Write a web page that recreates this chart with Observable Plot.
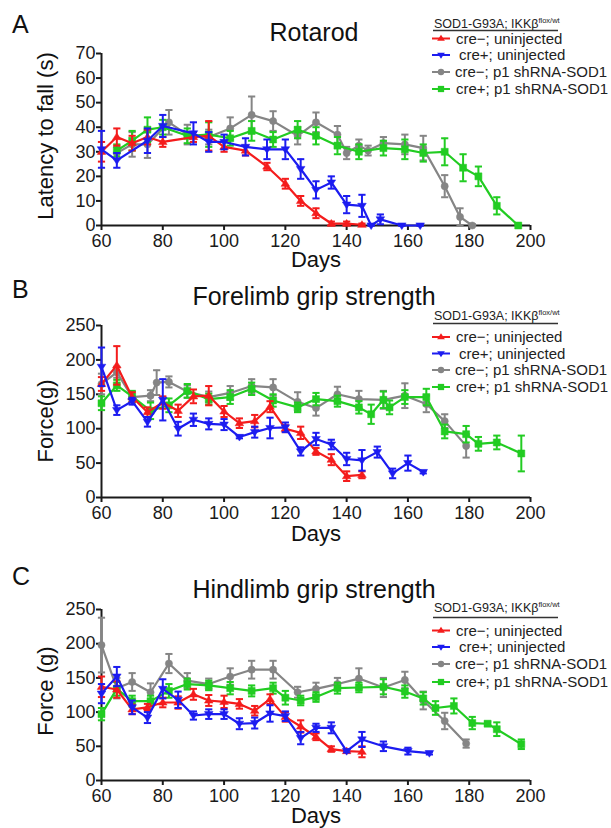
<!DOCTYPE html>
<html><head><meta charset="utf-8">
<script src="https://cdn.jsdelivr.net/npm/d3@7"></script>
<script src="https://cdn.jsdelivr.net/npm/@observablehq/plot@0.6"></script>
<style>body{margin:0;background:#fff;} #chart svg{display:block;}</style>
</head><body><div id="chart"></div>
<script>
// ---------- shared labels / ticks ----------
const xTicks = [60, 80, 100, 120, 140, 160, 180, 200];
const rotarodTicks = [0, 10, 20, 30, 40, 50, 60, 70];
const gripTicks = [0, 50, 100, 150, 200, 250];
const seriesNames = ["cre\u2212; uninjected", "cre+; uninjected", "cre\u2212; p1 shRNA-SOD1", "cre+; p1 shRNA-SOD1"];
const panelTitles = ["Rotarod", "Forelimb grip strength", "Hindlimb grip strength"];
const panelLetters = ["A", "B", "C"];
const yLabels = ["Latency to fall (s)", "Force(g)", "Force (g)"];

// ---------- A: Rotarod ----------
const rotRedDays = [60,65,70,75,80,90,95,100,107,114,120,125,130,135,140,145];
const rotRedMean = [30,36,33.5,36,34,36,36.5,32,30.5,24,17,10,5,0.8,0.8,0.3];
const rotRedErr  = [4,3.5,3,3,2,2,6,2,2,1.5,2,2,2,0.8,0.8,0.5];
const rotBlueDays = [60,65,75,80,90,95,100,107,114,120,125,130,135,140,145,148,151,158,164];
const rotBlueMean = [31,26.5,34.5,40.5,37.5,34,34,32,31,31,23,14.5,17.5,8.5,8,0,2.5,0,0];
const rotBlueErr  = [7.5,3,5,4.5,4.5,4,3,3.5,4,4,4,3.5,2.5,3.5,4.5,0,2,0,0];
const rotGrayDays = [65,70,75,82,88,95,102,109,116,124,130,137,140,144,147,152,159,165,172,177,181];
const rotGrayMean = [29.5,33,33,42,37,36,39.5,45,42.5,36.5,42,37,29.5,32.5,30.5,33.5,33,31.5,16,3.5,0];
const rotGrayErr  = [2.5,5,5.5,5,4,3,4.5,7.5,4,3.5,4,3.5,2.5,2.5,2,2.5,4,5,4.5,3.5,0.5];
const rotGreenDays = [65,70,75,80,88,95,102,109,116,124,130,137,144,152,159,165,172,178,183,189,196];
const rotGreenMean = [30.5,34.5,39,40,36.5,37,35.5,38.5,35,39,36.5,32.5,30,31.5,31,29.5,30,23.5,20,8,0];
const rotGreenErr  = [2.5,4,5,3,3,5,3,4,3,3.5,3.5,3.5,3,3,4,3.5,5.5,5.5,4,3.5,0.5];

// ---------- B: Forelimb grip ----------
const foreRedDays = [60,65,70,75,80,85,90,95,100,105,110,115,120,125,130,135,140,145];
const foreRedMean = [165,192,146,124,138,126,147,148,125,108,111,132,100,94,67,55,31,33];
const foreRedErr  = [10,28,7,7,9,9,10,14,8,7,9,8,5,9,5,8,7,5];
const foreBlueDays = [60,65,70,75,80,85,90,95,100,105,110,115,120,125,130,135,140,145,150,155,160,165];
const foreBlueMean = [190,127,140,110,142,100,113,107,106,88,95,101,102,67,85,77,56,54,66,35,50,37];
const foreBlueErr  = [28,7,5,7,30,10,9,8,8,2,8,15,7,6,9,7,9,15,8,7,11,2];
const foreGrayDays = [60,65,70,76,78,82,88,95,102,109,116,124,130,137,144,152,159,166,172,179];
const foreGrayMean = [165,182,146,148,167,168,154,146,152,162,160,139,130,150,143,142,148,136,111,75];
const foreGrayErr  = [15,8,8,8,18,8,9,8,10,10,12,14,11,11,12,13,18,12,10,17];
const foreGreenDays = [60,65,70,76,82,88,95,102,109,116,124,130,137,144,148,152,154,159,166,172,179,183,189,197];
const foreGreenMean = [137,163,147,126,134,155,143,146,158,141,131,143,140,131,121,142,131,146,146,96,92,78,80,64];
const foreGreenErr  = [10,8,8,12,10,10,8,10,9,9,7,9,8,9,14,12,10,10,12,10,12,10,10,26];

// ---------- C: Hindlimb grip ----------
const hindRedDays = [60,65,70,75,80,85,90,95,100,105,110,115,120,125,130,135,140,145];
const hindRedMean = [137,133,104,107,114,114,126,117,115,112,102,119,93,79,64,46,43,42];
const hindRedErr  = [15,12,7,5,7,9,8,8,9,7,7,7,7,9,5,4,2,8];
const hindBlueDays = [60,65,70,75,80,85,90,95,100,105,110,115,120,125,130,135,140,145,152,160,167];
const hindBlueMean = [127,152,107,92,134,118,95,97,97,83,84,98,94,62,77,77,43,60,50,43,40];
const hindBlueErr  = [14,14,10,8,14,12,6,7,7,8,8,12,7,9,6,8,2,11,7,5,2];
const hindGrayDays = [60,65,70,76,82,88,95,102,109,116,124,130,137,144,152,159,165,172,179];
const hindGrayMean = [198,135,144,129,171,146,141,152,162,162,129,134,141,149,136,147,117,87,54];
const hindGrayErr  = [40,15,13,13,14,11,8,12,13,13,8,9,9,15,14,12,13,12,6];
const hindGreenDays = [60,65,70,76,82,88,95,102,109,116,120,125,130,137,144,152,159,165,169,175,181,186,189,197];
const hindGreenMean = [97,134,116,116,131,141,139,135,131,135,121,117,122,135,136,137,130,120,106,109,84,83,75,53];
const hindGreenErr  = [9,10,8,8,10,8,7,9,8,8,10,7,7,8,7,11,9,9,10,11,9,3,10,7];

// ---------- helpers ----------
const FONT = "'Liberation Sans', Arial, Helvetica, sans-serif";
const colors = ["#f41c1c", "#1c1cf0", "#858585", "#22cc22"];
const rows = (days, mean, err) => days.map((d, i) => ({day: d, m: mean[i], e: err[i]}));

const triUp = {draw(ctx, size) { const a = Math.sqrt(size / Math.PI) * 1.35;
  ctx.moveTo(0, -a * 0.95); ctx.lineTo(a, a * 0.6); ctx.lineTo(-a, a * 0.6); ctx.closePath(); }};
const triDown = {draw(ctx, size) { const a = Math.sqrt(size / Math.PI) * 1.35;
  ctx.moveTo(-a, -a * 0.6); ctx.lineTo(a, -a * 0.6); ctx.lineTo(0, a * 0.95); ctx.closePath(); }};
const circ = {draw(ctx, size) { const r = Math.sqrt(size / Math.PI);
  ctx.moveTo(r, 0); ctx.arc(0, 0, r, 0, 2 * Math.PI); }};
const sq = {draw(ctx, size) { const h = Math.sqrt(size / Math.PI);
  ctx.rect(-h, -h, 2 * h, 2 * h); }};
const cap = {draw(ctx, size) { const w = Math.sqrt(size / Math.PI);
  ctx.moveTo(-w, 0); ctx.lineTo(w, 0); }};
const symbols = [triUp, triDown, circ, sq];
const symR = [3.2, 3.2, 3.6, 3.5];

function panel(p) {
  const marks = [
    Plot.axisX({ticks: xTicks, tickSize: 5, tickPadding: 4, fontSize: 18, strokeWidth: 2, label: null}),
    Plot.axisY({ticks: p.yTicks, tickSize: 5, tickPadding: 1, fontSize: 18, strokeWidth: 2, label: null}),
    Plot.ruleY([0], {stroke: "#1a1a1a", strokeWidth: 2}),
    Plot.ruleX([60], {stroke: "#1a1a1a", strokeWidth: 2})
  ];
  const order = [2, 3, 0, 1];
  for (const k of order) {
    const data = p.series[k], c = colors[k];
    marks.push(
      Plot.ruleX(data, {x: "day", y1: d => Math.max(0, d.m - d.e), y2: d => d.m + d.e, stroke: c, strokeWidth: 2}),
      Plot.dot(data, {x: "day", y: d => d.m + d.e, symbol: cap, r: 3.6, fill: "none", stroke: c, strokeWidth: 2}),
      Plot.dot(data, {x: "day", y: d => Math.max(0, d.m - d.e), symbol: cap, r: 3.6, fill: "none", stroke: c, strokeWidth: 2}),
      Plot.line(data, {x: "day", y: "m", stroke: c, strokeWidth: 2.2}),
      Plot.dot(data, {x: "day", y: "m", symbol: symbols[k], r: symR[k], fill: c, stroke: c, strokeWidth: 0.5})
    );
  }
  const svg = Plot.plot({
    width: 611, height: 276,
    marginTop: p.mt, marginBottom: p.mb, marginLeft: 101, marginRight: 81,
    x: {domain: [60, 200]}, y: {domain: p.yDomain},
    style: {fontFamily: FONT, fontSize: "18px", color: "#1a1a1a", background: "#fff", overflow: "visible"},
    marks
  });
  const s = d3.select(svg);
  const t = s.append("g").attr("font-family", FONT).attr("fill", "#111");
  t.append("text").attr("x", 12).attr("y", p.letterY).attr("font-size", 25).attr("text-anchor", "start").text(p.letter);
  t.append("text").attr("x", 314).attr("y", p.titleY).attr("font-size", 25).attr("text-anchor", "middle").text(p.title);
  t.append("text").attr("transform", `translate(53,${p.ylabelY}) rotate(-90)`).attr("font-size", 22)
    .attr("text-anchor", "middle").text(p.ylabel);
  t.append("text").attr("x", 316).attr("y", p.daysY).attr("font-size", 22).attr("text-anchor", "middle").text("Days");
  // legend
  const lg = s.append("g").attr("font-family", FONT).attr("text-anchor", "start");
  const hdr = lg.append("text").attr("x", 434).attr("y", p.legHeaderY).attr("font-size", 12.5)
    .attr("text-anchor", "start").attr("fill", "#222");
  hdr.append("tspan").text("SOD1-G93A; IKK\u03B2");
  hdr.append("tspan").attr("font-size", 7.5).attr("dy", -5).text("flox/wt");
  lg.append("line").attr("x1", 433).attr("x2", 558).attr("y1", p.legRuleY).attr("y2", p.legRuleY)
    .attr("stroke", "#333").attr("stroke-width", 1.6);
  const textX = [456, 459, 455, 456];
  seriesNames.forEach((name, k) => {
    const y = p.legRows[k];
    lg.append("line").attr("x1", 432).attr("x2", 450).attr("y1", y).attr("y2", y)
      .attr("stroke", colors[k]).attr("stroke-width", 2);
    lg.append("path").attr("transform", `translate(441,${y})`)
      .attr("d", d3.symbol(symbols[k], Math.PI * symR[k] * symR[k] * 0.8)()).attr("fill", colors[k]);
    lg.append("text").attr("x", textX[k]).attr("y", y).attr("dy", "0.35em").attr("font-size", 15)
      .attr("text-anchor", "start").attr("fill", "#222").text(name);
  });
  return svg;
}

const chart = document.getElementById("chart");
chart.append(panel({
  letter: panelLetters[0], title: panelTitles[0], ylabel: yLabels[0],
  yDomain: [0, 70], yTicks: rotarodTicks, mt: 53, mb: 51,
  letterY: 33, titleY: 41, ylabelY: 136, daysY: 267,
  legHeaderY: 28, legRuleY: 30.5, legRows: [38.5, 55, 72, 89],
  series: [rows(rotRedDays, rotRedMean, rotRedErr), rows(rotBlueDays, rotBlueMean, rotBlueErr),
           rows(rotGrayDays, rotGrayMean, rotGrayErr), rows(rotGreenDays, rotGreenMean, rotGreenErr)]
}));
chart.append(panel({
  letter: panelLetters[1], title: panelTitles[1], ylabel: yLabels[1],
  yDomain: [0, 250], yTicks: gripTicks, mt: 49, mb: 55,
  letterY: 22, titleY: 29, ylabelY: 145, daysY: 265,
  legHeaderY: 44, legRuleY: 47.5, legRows: [61, 77.5, 94, 111],
  series: [rows(foreRedDays, foreRedMean, foreRedErr), rows(foreBlueDays, foreBlueMean, foreBlueErr),
           rows(foreGrayDays, foreGrayMean, foreGrayErr), rows(foreGreenDays, foreGreenMean, foreGreenErr)]
}));
chart.append(panel({
  letter: panelLetters[2], title: panelTitles[2], ylabel: yLabels[2],
  yDomain: [0, 250], yTicks: gripTicks, mt: 57, mb: 48,
  letterY: 33, titleY: 46, ylabelY: 139, daysY: 271,
  legHeaderY: 60, legRuleY: 65.5, legRows: [78.5, 95, 112, 130],
  series: [rows(hindRedDays, hindRedMean, hindRedErr), rows(hindBlueDays, hindBlueMean, hindBlueErr),
           rows(hindGrayDays, hindGrayMean, hindGrayErr), rows(hindGreenDays, hindGreenMean, hindGreenErr)]
}));
</script></body></html>
